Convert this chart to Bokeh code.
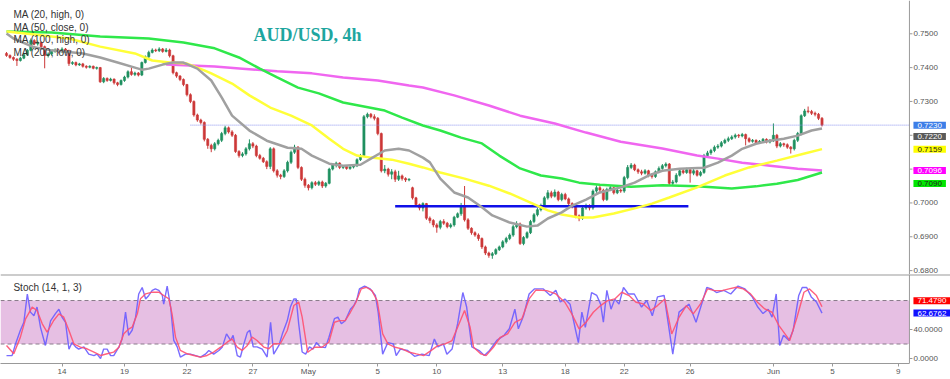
import numpy as np
from bokeh.plotting import figure
from bokeh.models import Range1d, FixedTicker, Label, Span, BoxAnnotation
from bokeh.core.properties import value
from bokeh.layouts import column
from bokeh.embed import file_html
from bokeh.resources import INLINE

# ---------------- data (prices in 1e-4 units, 4h bars) ----------------
opens = [7442,7436,7430,7425,7421,7428,7438,7451,7480,7470,
         7474,7462,7436,7440,7448,7452,7447,7455,7450,7412,
         7415,7408,7411,7404,7401,7404,7398,7400,7358,7368,
         7362,7366,7355,7350,7362,7372,7388,7380,7384,7378,
         7415,7432,7445,7452,7450,7455,7448,7452,7435,7385,
         7375,7365,7350,7320,7300,7260,7245,7238,7188,7170,
         7160,7175,7185,7205,7222,7210,7200,7152,7140,7145,
         7160,7175,7168,7140,7132,7122,7108,7160,7095,7082,
         7078,7095,7120,7150,7165,7105,7070,7052,7045,7060,
         7055,7062,7050,7058,7100,7112,7118,7105,7108,7102,
         7106,7110,7128,7140,7255,7262,7255,7250,7205,7095,
         7100,7085,7092,7070,7080,7072,7068,7045,7015,6995,
         6985,6998,6955,6948,6935,6928,6945,6940,6930,6935,
         6958,6968,6990,6950,6925,6912,6905,6895,6870,6852,
         6845,6850,6862,6870,6885,6895,6905,6930,6938,6880,
         6898,6912,6945,6965,6980,6992,7015,7030,7020,7032,
         7010,7025,7012,6998,6990,6962,6955,6985,6992,6985,
         7035,7045,7038,7010,7040,7045,7030,7038,7035,7075,
         7105,7112,7098,7092,7088,7095,7082,7078,7092,7102,
         7110,7115,7058,7062,7082,7095,7090,7098,7088,7095,
         7082,7090,7140,7148,7155,7165,7168,7178,7185,7190,
         7195,7200,7198,7202,7190,7182,7185,7178,7182,7188,
         7180,7185,7200,7168,7175,7172,7165,7160,7185,7205,
         7258,7272,7270,7265,7262,7250]
highs = [7446,7439,7433,7428,7432,7441,7455,7486,7484,7480,
         7477,7465,7445,7452,7457,7456,7460,7458,7453,7419,
         7418,7414,7414,7407,7407,7406,7403,7402,7372,7371,
         7370,7368,7358,7365,7376,7392,7400,7388,7387,7418,
         7436,7450,7457,7456,7460,7458,7458,7456,7438,7388,
         7378,7368,7352,7324,7303,7264,7249,7241,7192,7175,
         7180,7190,7210,7228,7226,7215,7204,7156,7150,7165,
         7188,7180,7172,7145,7136,7126,7165,7164,7100,7086,
         7100,7125,7155,7172,7168,7108,7075,7056,7064,7065,
         7066,7066,7062,7104,7118,7122,7120,7112,7111,7110,
         7114,7132,7145,7260,7267,7266,7262,7254,7208,7112,
         7104,7100,7098,7095,7084,7076,7073,7048,7018,6998,
         7002,7000,6960,6952,6940,6950,6952,6944,6940,6962,
         6972,7000,7050,6955,6928,6916,6910,6898,6874,6856,
         6855,6866,6874,6890,6900,6910,6935,6946,6942,6902,
         6916,6950,6970,6985,6998,7020,7038,7036,7040,7036,
         7030,7030,7016,7002,6994,6966,6990,6998,6996,7040,
         7052,7050,7042,7045,7052,7048,7044,7042,7080,7112,
         7118,7116,7102,7098,7100,7098,7088,7096,7108,7115,
         7120,7118,7068,7088,7100,7100,7104,7102,7100,7098,
         7095,7145,7154,7160,7170,7174,7183,7190,7196,7200,
         7205,7204,7207,7205,7194,7189,7188,7186,7192,7191,
         7189,7235,7204,7180,7178,7176,7168,7190,7210,7262,
         7278,7285,7275,7270,7266,7254]
lows = [7432,7426,7420,7405,7418,7425,7435,7448,7466,7465,
        7458,7398,7430,7436,7444,7442,7444,7446,7405,7408,
        7404,7405,7400,7397,7398,7395,7394,7355,7354,7358,
        7359,7350,7345,7347,7358,7368,7376,7375,7374,7375,
        7412,7428,7442,7446,7446,7444,7445,7430,7380,7370,
        7360,7345,7315,7295,7255,7240,7232,7182,7160,7150,
        7155,7170,7180,7200,7205,7195,7148,7134,7135,7140,
        7155,7162,7135,7128,7118,7100,7100,7090,7075,7070,
        7074,7090,7115,7145,7100,7065,7045,7037,7040,7050,
        7050,7044,7045,7055,7096,7105,7100,7100,7098,7098,
        7102,7106,7124,7136,7250,7250,7244,7200,7090,7088,
        7078,7070,7062,7065,7066,7062,7064,7010,6990,6978,
        6975,6950,6940,6928,6912,6922,6935,6925,6925,6930,
        6955,6962,6945,6920,6906,6900,6888,6864,6846,6838,
        6835,6846,6858,6866,6880,6890,6900,6925,6876,6875,
        6894,6908,6940,6960,6975,6988,7010,7014,7016,7005,
        7005,7008,6992,6984,6955,6946,6950,6980,6978,6980,
        7030,7032,7005,7006,7035,7025,7026,7030,7030,7070,
        7100,7094,7086,7082,7084,7076,7072,7074,7088,7098,
        7105,7052,7050,7058,7078,7085,7086,7060,7082,7078,
        7078,7086,7135,7142,7150,7160,7164,7174,7180,7186,
        7190,7192,7194,7170,7178,7178,7174,7175,7178,7176,
        7176,7180,7162,7164,7166,7160,7146,7155,7180,7200,
        7254,7265,7260,7256,7245,7226]
closes = [7436,7430,7425,7421,7428,7438,7451,7480,7470,7474,
          7462,7436,7440,7448,7452,7447,7455,7450,7412,7415,
          7408,7411,7404,7401,7404,7398,7400,7358,7368,7362,
          7366,7355,7350,7362,7372,7388,7380,7384,7378,7415,
          7432,7445,7452,7450,7455,7448,7452,7435,7385,7375,
          7365,7350,7320,7300,7260,7245,7238,7188,7170,7160,
          7175,7185,7205,7222,7210,7200,7152,7140,7145,7160,
          7175,7168,7140,7132,7122,7108,7160,7095,7082,7078,
          7095,7120,7150,7165,7105,7070,7052,7045,7060,7055,
          7062,7050,7058,7100,7112,7118,7105,7108,7102,7106,
          7110,7128,7140,7255,7262,7255,7250,7205,7095,7100,
          7085,7092,7070,7080,7072,7068,7070,7015,6995,6985,
          6998,6955,6948,6935,6928,6945,6940,6930,6935,6958,
          6968,6990,6950,6925,6912,6905,6895,6870,6852,6845,
          6850,6862,6870,6885,6895,6905,6930,6938,6880,6898,
          6912,6945,6965,6980,6992,7015,7030,7020,7032,7010,
          7025,7012,6998,6990,6962,6955,6985,6992,6985,7035,
          7045,7038,7010,7040,7045,7030,7038,7035,7075,7105,
          7112,7098,7092,7088,7095,7082,7078,7092,7102,7110,
          7115,7058,7062,7082,7095,7090,7098,7088,7095,7082,
          7090,7140,7148,7155,7165,7168,7178,7185,7190,7195,
          7200,7198,7202,7190,7182,7185,7178,7182,7188,7180,
          7185,7200,7168,7175,7172,7165,7160,7185,7205,7258,
          7272,7270,7265,7262,7250,7230]

# moving averages sampled at bar indices
ma20_x = [0,2,8,13,22,27,32,37,39,41,45,48,51,55,59,62,65,70,75,81,85,88,93,97,102,105,109,113,116,120,
          122,125,129,133,137,140,145,150,153,156,160,163,167,171,177,181,185,189,194,201,205,209,212,216,220,224,228,232,235]
ma20_y = [7501,7486,7460,7451,7442,7430,7415,7400,7394,7397,7409,7415,7415,7397,7362,7312,7258,7214,7184,7163,
          7160,7140,7116,7110,7113,7131,7155,7160,7155,7134,7120,7072,7031,7016,6987,6963,6942,6930,6933,6954,
          6972,6992,7010,7031,7046,7060,7081,7095,7101,7104,7119,7140,7160,7175,7184,7190,7199,7214,7220]
ma50_x = [0,8,18,27,37,42,47,52,57,59,65,70,76,82,88,93,97,101,105,111,116,120,125,132,139,145,151,156,160,165,
          169,175,181,186,191,199,207,214,222,230,235]
ma50_y = [7507,7498,7486,7462,7442,7421,7415,7412,7392,7383,7353,7318,7282,7258,7229,7190,7160,7140,7134,7128,
          7116,7105,7090,7072,7051,7028,7001,6978,6966,6957,6957,6969,6984,6998,7016,7046,7081,7105,7125,7146,7159]
ma100_x = [0,13,27,41,51,60,67,73,78,84,90,97,103,109,114,120,125,131,137,142,148,154,160,165,171,180,189,199,
           209,216,222,228,235]
ma100_y = [7507,7504,7492,7486,7474,7457,7430,7397,7371,7341,7324,7297,7285,7273,7252,7229,7214,7193,7176,7140,
           7102,7081,7072,7060,7054,7048,7052,7049,7043,7049,7057,7068,7090]
ma200_x = [46,60,68,78,88,97,107,116,120,129,139,148,158,167,177,189,199,205,212,220,228,235]
ma200_y = [7409,7403,7397,7389,7383,7371,7362,7347,7341,7318,7288,7258,7235,7208,7181,7161,7140,7131,7119,7110,
           7101,7096]

# stochastic (14,1,3)
k_x = [0,1.6,2.6,4,5,6,6.9,7.9,8.8,9.8,11.2,12.7,14.1,15.1,16,17,18,18.9,19.9,20.8,22.3,23.7,25.2,26.1,27.1,
       28,29,30,30.9,32.4,33.3,34.3,35.2,36.2,37.2,38.1,39.1,40.1,41,42,42.9,43.9,44.9,45.3,46.3,47.3,48.2,49.2,
       50.1,51.6,53,54.5,55.9,57.3,58.3,59.7,61.2,62.2,63.4,64.6,65.3,66.5,67.4,68.4,69.4,70.1,71.1,72.2,73.7,
       75.1,76.1,77,78.5,79.5,80.9,81.8,82.8,83.5,84.2,85.2,
       86.2,87.3,88.3,89.3,90.4,91.9,92.9,94.5,95.5,96.5,97.6,99.1,100.1,101,101.7,103.2,104.8,106.3,107.1,
       108.4,109.9,111.5,112.3,113.5,115.6,117.6,119.7,121.8,123.3,124.3,125.9,126.9,128.4,130,131.5,132.6,
       134.1,136.2,137.7,139.2,141.3,143.4,144.9,146.5,147.5,149,150.6,152.1,154.7,156.7,158.3,159.6,160.9,
       162.4,164,164.8,165.8,166.8,168.6,170.1,171.2,172,173,174.2,175.3,176.5,177.8,179.2,180.9,183,184.5,
       186.1,187.6,189.5,190.7,192,193.8,196.7,198.7,200.5,201.8,203.1,204.6,206.7,208.7,210.8,212.8,214.9,
       216.5,218,219.5,220.6,221.8,222.8,223.9,225.5,226.7,228.3,229.3,230.6,231.9,233.4,235]
k_y = [4,4,20,39,50,89,64,59,71,43,18,52,62,68,57,50,13,22,16,13,16,6,4,6,0,13,13,4,4,16,27,64,32,39,57,89,
       98,82,87,94,96,94,87,75,100,71,25,16,2,6,6,4,2,6,11,6,11,16,34,25,32,4,2,20,36,39,16,16,13,2,50,6,18,34,
       52,71,82,82,48,9,
       6,16,13,22,16,15,29,55,57,48,52,68,73,82,96,100,96,87,64,6,22,20,4,13,11,3,6,4,27,16,20,6,13,48,91,71,
       16,11,4,11,25,32,41,68,41,59,89,96,96,87,94,78,82,75,39,22,64,43,91,87,75,50,94,68,82,75,98,89,89,71,
       80,59,85,87,48,6,64,75,50,78,98,96,91,94,89,100,96,85,71,62,68,57,89,18,32,25,39,87,98,98,85,78,62.6762]
d_x = [0,2.1,4,5.5,7.4,8.8,10.3,11.7,13.6,15.1,16.5,18,19.4,21.3,23.2,25.2,27.1,29,30.9,32.4,33.8,35.3,36.2,
       37.7,38.6,40.1,42,43.9,45.3,46.8,47.7,48.7,50.1,52.1,54,55.9,57.8,59.7,61.7,63.6,65,66.5,67.9,69.4,70.8,
       72.2,74.2,75.6,77,78.9,80.9,82.8,84.2,85.2,
       86.8,88.8,90.9,92.9,94.5,96,97.6,99.1,100.7,102.2,103.7,105.3,106.8,108.4,109.9,112,114,116.1,118.1,
       120.2,122.3,124.3,126.4,128.4,130,132,133.6,134.6,136.7,138.2,140.3,142.3,144.4,146.5,148.5,150.6,152.6,
       155.7,158.3,160.9,162.9,165,167,169.1,171.2,173.2,175.3,177.3,179.4,181.4,183.5,185.6,187.6,189.7,191.7,
       193.8,195.9,197.9,200,202,204.1,206.2,208.2,210.3,212.3,214.4,216.4,218.5,220.6,222.6,224.7,225.7,227.8,
       229.8,231.4,233.4,235]
d_y = [18,6.5,29.5,54.7,70.8,66.2,47.8,36.3,52.4,61.6,57,38.6,20.3,15.6,13.4,8.8,4.2,6.5,8.8,15.6,34,40.9,43.2,
       61.6,82.3,89.2,91.5,91.5,86.9,82.3,61.6,29.5,11.1,6.5,4.2,1.9,4.2,8.8,15.6,22.5,27.1,15.6,11.1,18,29.5,
       24.9,15.6,13.4,20.3,20.3,38.6,73.1,77.7,57,
       8.6,15.5,15.5,22.4,50,52.3,52.3,63.8,77.6,96,98.3,93.7,79.9,33.9,20.1,15.5,13.2,8.6,6.3,4,10.9,17.8,20.1,
       24.7,43.1,66.1,43.1,15.5,6.3,4,15.5,29.3,33.9,50,54.6,82.2,94.6,93.7,89.1,77.6,61.5,40.8,50,63.8,73,79.9,
       82.2,91.4,86.8,77.6,75.3,66.1,73,82.2,33.9,56.9,73,61.5,75.3,96,93.7,93.7,96,98.3,96,89.1,77.6,68.4,63.8,
       45.4,31.6,24.7,56.9,91.4,96,86.8,71.4790]

# x-axis date labels at bar indices
tick_idx = [16, 34, 52, 71, 87, 107, 124, 143, 161, 178, 197, 221, 238, 257]
tick_lbl = ["14", "19", "22", "27", "May", "5", "10", "13", "18", "22", "26", "Jun", "5", "9"]
price_ticks = [0.68, 0.69, 0.70, 0.71, 0.72, 0.73, 0.74, 0.75]
stoch_ticks = [0, 40]
stoch_bands = [20, 80]

# analyst lines
support_level = 0.6990
support_from, support_to = 112, 196.5
last_price_from = 53

# ---------------- styling / build ----------------
S = 1e-4
o = np.array(opens) * S
h = np.array(highs) * S
l = np.array(lows) * S
c = np.array(closes) * S
idx = np.arange(len(opens))
up = c >= o
UPC, DNC = "#1f9060", "#cc3838"
cols = [UPC if u else DNC for u in up]

PXB = 3.47                 # pixels per bar
X0, X2 = -1.73, 272.03     # full canvas width
X1 = 260.2                 # price-axis line position
TICK = 3 / PXB
FONT = "Liberation Sans"
AX = "#999999"
LBL = "#555555"
PY0, PY1 = 0.67885, 0.75984
SY0, SY1 = -6.9, 115.9


def base(fig):
    fig.outline_line_color = None
    fig.grid.visible = False
    fig.background_fill_color = "white"
    fig.border_fill_color = "white"


def price_axis(fig, ticks, fmt):
    fig.add_layout(Span(location=X1, dimension="height", line_color=AX, line_width=1))
    fig.segment(x0=[X1] * len(ticks), x1=[X1 + TICK] * len(ticks), y0=ticks, y1=ticks,
                line_color=AX, line_width=1)
    fig.text(x=[X1] * len(ticks), y=ticks, text=[fmt % t for t in ticks], x_offset=4,
             text_baseline="middle", text_align="left", text_font=value(FONT),
             text_font_size="8px", text_color=LBL)


def tag(fig, v, bg, fg, off):
    fig.text(x=[X1], y=[v], text=["%.4f" % v], x_offset=4, y_offset=off, text_baseline="middle",
             text_align="left", text_font=value(FONT), text_font_size="8px", text_color=fg,
             background_fill_color=bg, padding=(4, 1))


p1 = figure(width=950, height=274, x_range=Range1d(X0, X2), y_range=Range1d(PY0, PY1),
            output_backend="svg", toolbar_location=None, x_axis_location=None, y_axis_location=None,
            min_border=0)
base(p1)

# candles
p1.segment(x0=idx, y0=l, x1=idx, y1=h, color=cols, line_width=1)
p1.vbar(x=idx, width=0.62, top=np.maximum(o, c), bottom=np.minimum(o, c),
        fill_color=cols, line_color=cols, line_width=0.6)

# last price dotted line + support line
p1.line([last_price_from, X1], [c[-1], c[-1]], line_color="#8a92ee", line_width=1, line_dash="1 1")
p1.line([support_from, support_to], [support_level, support_level], line_color="#1010e8", line_width=2.5)

# MAs
p1.line(ma200_x, np.array(ma200_y) * S, line_color="#f066f0", line_width=2.5)
p1.line(ma100_x, np.array(ma100_y) * S, line_color="#2fe84a", line_width=2.5)
p1.line(ma50_x, np.array(ma50_y) * S, line_color="#ffff38", line_width=2.5)
p1.line(ma20_x, np.array(ma20_y) * S, line_color="#a0a0a0", line_width=2.5)

# price axis drawn along the right edge
price_axis(p1, price_ticks, "%.4f")

# title
p1.add_layout(Label(x=71.2, y=0.7497, text="AUD/USD, 4h", text_font="Liberation Serif",
                    text_font_style="bold", text_font_size="18px", text_color="#1ea69f",
                    text_baseline="alphabetic"))
# legend texts
legend_txt = ["MA (20, high, 0)", "MA (50, close, 0)", "MA (100, high, 0)", "MA (200, low, 0)"]
for k, t in enumerate(legend_txt):
    p1.add_layout(Label(x=2.0, y=PY1, y_offset=-14.3 - 12.5 * k, text=t, text_font=FONT,
                        text_font_size="10px", text_color="#333333", text_baseline="middle"))

# price tags
tag(p1, c[-1], "#3d7ee8", "white", 0)
tag(p1, ma20_y[-1] * S, "#5a5a5a", "white", 8)
tag(p1, ma50_y[-1] * S, "#ffff00", "#222222", 0)
tag(p1, ma200_y[-1] * S, "#ff00ff", "white", 0)
tag(p1, ma100_y[-1] * S, "#00e600", "#222222", 11)

# ---------------- stochastic pane ----------------
p2 = figure(width=950, height=105, x_range=p1.x_range, y_range=Range1d(SY0, SY1),
            output_backend="svg", toolbar_location=None, y_axis_location=None,
            min_border=0, min_border_bottom=16)
base(p2)
xa = p2.xaxis[0]
xa.ticker = FixedTicker(ticks=tick_idx)
xa.major_label_overrides = {t: s for t, s in zip(tick_idx, tick_lbl)}
xa.major_label_text_font_size = "8px"
xa.major_label_text_font = FONT
xa.major_label_text_color = LBL
xa.axis_line_color = AX
xa.major_tick_line_color = AX
xa.major_tick_in = 0
xa.major_tick_out = 3
xa.minor_tick_line_color = None
xa.major_label_standoff = 0
xa.bounds = (X0, X1)

p2.add_layout(BoxAnnotation(left=X0, right=X1, bottom=stoch_bands[0], top=stoch_bands[1],
                            fill_color="#e6bfe3", fill_alpha=1.0, line_color=None, level="underlay"))
for lv in stoch_bands:
    p2.line([X0, X1], [lv, lv], line_color="#8a7a8a", line_dash="4 3", line_width=1)
p2.add_layout(Span(location=SY1, dimension="width", line_color=AX, line_width=2))

p2.line(k_x, k_y, line_color="#6a5cff", line_width=1.4, line_alpha=0.9)
p2.line(d_x, d_y, line_color="#ff5070", line_width=1.4, line_alpha=0.9)

price_axis(p2, stoch_ticks, "%.4f")

p2.add_layout(Label(x=2.0, y=SY1, y_offset=-12.7, text="Stoch (14, 1, 3)", text_font=FONT,
                    text_font_size="10px", text_color="#333333", text_baseline="middle"))
tag(p2, d_y[-1], "#ff0000", "white", -6)
tag(p2, k_y[-1], "#1010ff", "white", 0)

layout = column(p1, p2, spacing=0)
open("out.html", "w").write(file_html(layout, INLINE))
